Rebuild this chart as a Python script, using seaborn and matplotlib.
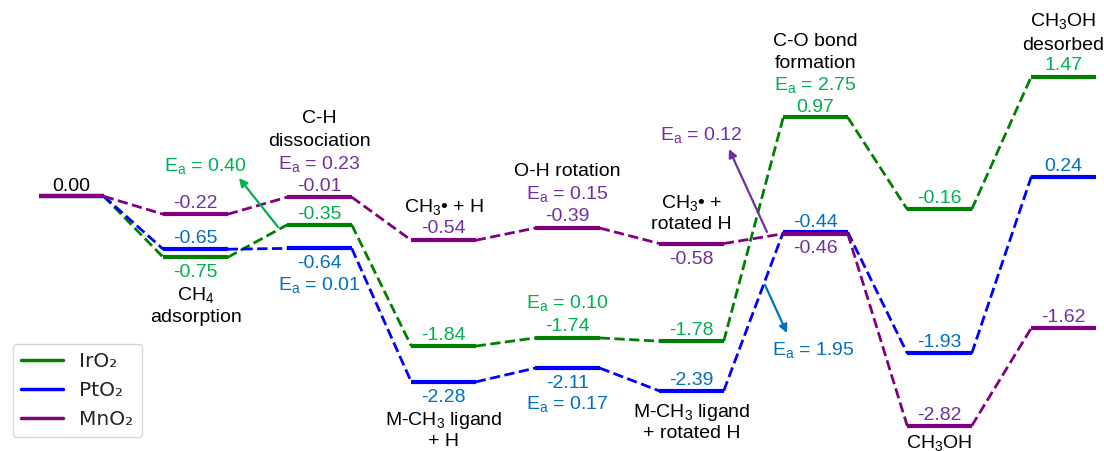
import pandas as pd
import matplotlib.pyplot as plt
from matplotlib.lines import Line2D
import seaborn as sns

# Energies (eV) for each step of the reaction path
states = list(range(9))
ir_energy = [0.00, -0.75, -0.35, -1.84, -1.74, -1.78, 0.97, -0.16, 1.47]
pt_energy = [0.00, -0.65, -0.64, -2.28, -2.11, -2.39, -0.44, -1.93, 0.24]
mn_energy = [0.00, -0.22, -0.01, -0.54, -0.39, -0.58, -0.46, -2.82, -1.62]
catalysts = ["IrO\u2082", "PtO\u2082", "MnO\u2082"]

# Activation barriers
ea_ir = ["0.40", "0.10", "2.75"]
ea_pt = ["0.01", "0.17", "1.95"]
ea_mn = ["0.23", "0.15", "0.12"]

# Colours
line_colors = ["green", "blue", "purple"]
G_TXT, B_TXT, P_TXT = "#00b050", "#0070c0", "#7030a0"

sns.set_style("white")
plt.rcParams["font.family"] = ["Liberation Sans", "DejaVu Sans"]
plt.rcParams["mathtext.fontset"] = "custom"
plt.rcParams["mathtext.rm"] = "Liberation Sans"
plt.rcParams["mathtext.it"] = "Liberation Sans:italic"

FS = 14
HALF = 0.26  # half width of a level bar

# pixel -> data helpers (axes fill the whole figure)
SX, X0 = 124.0, 71.5
SY, Y0 = 81.4, 196.3


def px(x, y):
    return ((x - X0) / SX, (Y0 - y) / SY)


# -------------------------
# Build long table of level bars
# -------------------------
energies = [ir_energy, pt_energy, mn_energy]
rows = []
for cat, en in zip(catalysts, energies):
    for s, e in zip(states, en):
        rows.append({"catalyst": cat, "state": s, "x": s - HALF, "E": e})
        rows.append({"catalyst": cat, "state": s, "x": s + HALF, "E": e})
df = pd.DataFrame(rows)

fig = plt.figure(figsize=(11.04, 4.51), dpi=100)
ax = fig.add_axes([0, 0, 1, 1])

# dashed connectors
for en, c in zip(energies, line_colors):
    for s in states[:-1]:
        ax.plot([s + HALF, s + 1 - HALF], [en[s], en[s + 1]],
                color=c, ls="--", lw=2.0, zorder=2)

sns.lineplot(data=df, x="x", y="E", hue="catalyst", units="state",
             estimator=None, palette=line_colors, hue_order=catalysts,
             lw=3, legend=False, ax=ax, zorder=3, solid_capstyle="butt")

ax.set_xlim(px(0, 0)[0], px(1104, 0)[0])
ax.set_ylim(px(0, 451)[1], px(0, 0)[1])
ax.axis("off")


def put(i, energy, up, text, color="black"):
    ax.annotate(text, xy=(i, energy), xytext=(0, up * 0.72),
                textcoords="offset points", ha="center", va="baseline",
                color=color, fontsize=FS, zorder=5)


def ea(v):
    return r"$\mathregular{E_a}$ = " + v


def num(en, i):
    return f"{en[i]:.2f}"


ir, pt, mn = ir_energy, pt_energy, mn_energy

# state 0
put(0, mn[0], 5, num(mn, 0))
# state 1
put(1, mn[1], 6, num(mn, 1), P_TXT)
put(1, pt[1], 6, num(pt, 1), B_TXT)
put(1, ir[1], -20, num(ir, 1), G_TXT)
put(1, ir[1], -43, r"$\mathregular{CH_4}$")
put(1, ir[1], -65, "adsorption")
# state 2
put(2, mn[2], 6, num(mn, 2), P_TXT)
put(2, mn[2], 28, ea(ea_mn[0]), P_TXT)
put(2, mn[2], 51, "dissociation")
put(2, mn[2], 74, "C-H")
put(2, ir[2], 6, num(ir, 2), G_TXT)
put(2, pt[2], -20, num(pt, 2), B_TXT)
put(2, pt[2], -42, ea(ea_pt[0]), B_TXT)
# state 3
put(3, mn[3], 7, num(mn, 3), P_TXT)
put(3, mn[3], 28, r"$\mathregular{CH_3}$• + H")
put(3, ir[3], 6, num(ir, 3), G_TXT)
put(3, pt[3], -20, num(pt, 3), B_TXT)
put(3, pt[3], -43, r"M-$\mathregular{CH_3}$ ligand")
put(3, pt[3], -64, "+ H")
# state 4
put(4, mn[4], 7, num(mn, 4), P_TXT)
put(4, mn[4], 29, ea(ea_mn[1]), P_TXT)
put(4, mn[4], 52, "O-H rotation")
put(4, ir[4], 7, num(ir, 4), G_TXT)
put(4, ir[4], 30, ea(ea_ir[1]), G_TXT)
put(4, pt[4], -20, num(pt, 4), B_TXT)
put(4, pt[4], -41, ea(ea_pt[1]), B_TXT)
# state 5
put(5, mn[5], -20, num(mn, 5), P_TXT)
put(5, mn[5], 15, "rotated H")
put(5, mn[5], 36, r"$\mathregular{CH_3}$• +")
put(5, ir[5], 6, num(ir, 5), G_TXT)
put(5, pt[5], 6, num(pt, 5), B_TXT)
put(5, pt[5], -26, r"M-$\mathregular{CH_3}$ ligand")
put(5, pt[5], -47, "+ rotated H")
# state 6
put(6, ir[6], 5, num(ir, 6), G_TXT)
put(6, ir[6], 27, ea(ea_ir[2]), G_TXT)
put(6, ir[6], 49, "formation")
put(6, ir[6], 71, "C-O bond")
put(6, pt[6], 5, num(pt, 6), B_TXT)
put(6, mn[6], -19, num(mn, 6), P_TXT)
# state 7
put(7, ir[7], 6, num(ir, 7), G_TXT)
put(7, pt[7], 6, num(pt, 7), B_TXT)
put(7, mn[7], 6, num(mn, 7), P_TXT)
put(7, mn[7], -22, r"$\mathregular{CH_3}$OH")
# state 8
put(8, ir[8], 7, num(ir, 8), G_TXT)
put(8, ir[8], 27, "desorbed")
put(8, ir[8], 51, r"$\mathregular{CH_3}$OH")
put(8, pt[8], 6, num(pt, 8), B_TXT)
put(8, mn[8], 6, num(mn, 8), P_TXT)

# -------------------------
# Barrier labels with arrows
# -------------------------
ax.text(*px(205, 171), ea(ea_ir[0]), color=G_TXT, fontsize=FS,
        ha="center", va="baseline")
ax.text(*px(701, 140), ea(ea_mn[2]), color=P_TXT, fontsize=FS,
        ha="center", va="baseline")
ax.text(*px(813, 355), ea(ea_pt[2]), color=B_TXT, fontsize=FS,
        ha="center", va="baseline")

arrows = [((278, 227), (239, 178), G_TXT),
          ((767, 232), (729, 149), P_TXT),
          ((765, 285), (787, 333), B_TXT)]
for tail, head, c in arrows:
    ax.annotate("", xy=px(*head), xytext=px(*tail),
                arrowprops=dict(arrowstyle="-|>", color=c, lw=1.6,
                                mutation_scale=12, shrinkA=0, shrinkB=0))

# -------------------------
# Legend
# -------------------------
handles = [Line2D([0], [0], color=c, lw=2.5) for c in line_colors]
leg = ax.legend(handles, catalysts, loc="lower left",
                bbox_to_anchor=(13 / 1104, 14 / 451), borderaxespad=0,
                prop={"family": "DejaVu Sans", "size": 14.5},
                handlelength=2.1, frameon=True)
leg.get_frame().set_edgecolor("#cccccc")

plt.savefig("out.png", dpi=100)
